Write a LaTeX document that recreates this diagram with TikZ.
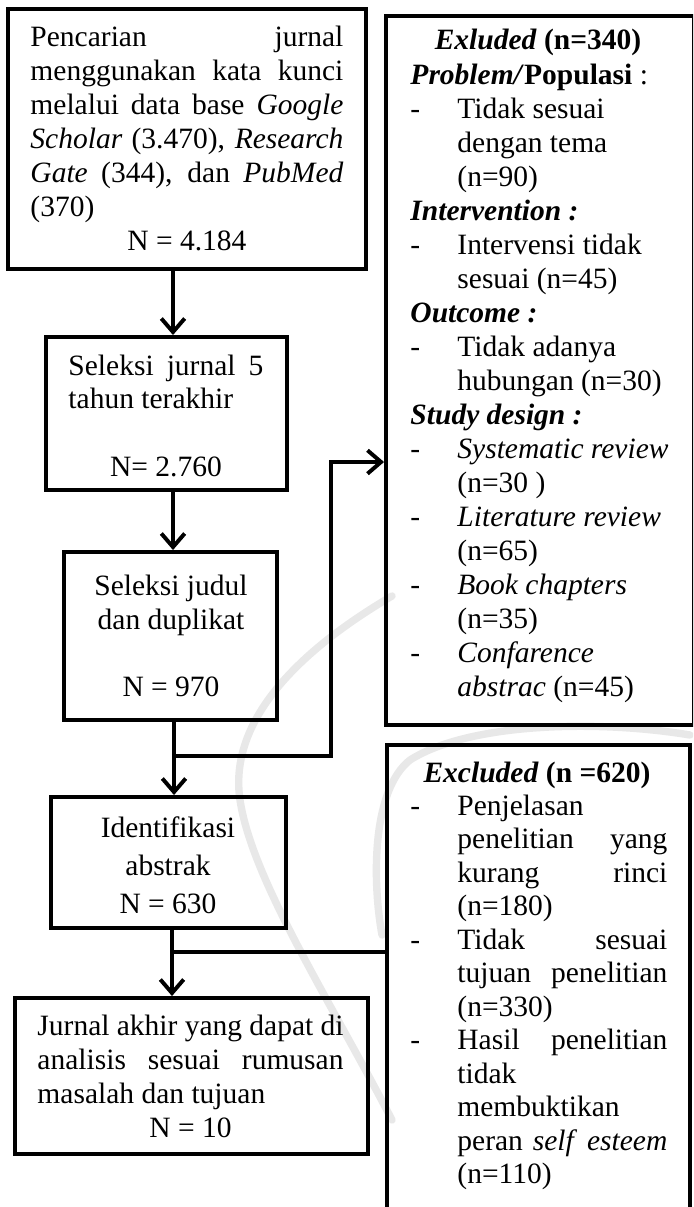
\documentclass[tikz,border=0pt]{standalone}
\usepackage{fontspec}
\setmainfont{Liberation Serif}
\usetikzlibrary{arrows.meta,fit}
\newcommand{\fixsp}{\spaceskip=0pt\xspaceskip=0pt\relax}
\newcommand{\jl}[1]{\makebox[\linewidth][s]{#1}}
\newcommand{\cl}[1]{\makebox[\linewidth][c]{#1}}
\newcommand{\dsh}{\makebox[19.1pt][l]{-}}
\newcommand{\ind}{\hspace*{19.1pt}}
\newcommand{\ji}[1]{\makebox[85.4pt][s]{#1}}
\begin{document}
\begin{tikzpicture}[x=0.4068pt,y=-0.4068pt,
  box/.style={draw, line width=1.6pt, inner sep=0pt},
  txt/.style={inner sep=0pt, font=\fontsize{12pt}{13.83pt}\selectfont, align=left},
  ctxt/.style={inner sep=0pt, font=\fontsize{12pt}{13.83pt}\selectfont, align=center},
  conn/.style={line width=1.6pt},
  arr/.style={conn, -{Straight Barb[length=5.5pt,width=9.5pt]}},
  wm/.style={line width=3pt, draw=black!9, line cap=round}]
\useasboundingbox (0,0) rectangle (693,1207);
\clip (0,0) rectangle (693,1207);
\fill[white] (0,0) rectangle (693,1207);
% watermark
\draw[wm] (392,596) .. controls (300,650) and (228,720) .. (240,800)
  .. controls (252,880) and (330,1000) .. (392,1120);
\draw[wm] (690,735) .. controls (600,720) and (470,722) .. (410,760)
  .. controls (372,790) and (372,880) .. (382,935);
% boxes
\node[box, fit={(8,9) (366,269)}] (b1) {};
\node[box, fit={(46,337) (287,490)}] (b2) {};
\node[box, fit={(64,552) (277,720)}] (b3) {};
\node[box, fit={(51,797) (286,928)}] (b4) {};
\node[box, fit={(15,998) (368,1154)}] (b5) {};
\node[box, fit={(386,16) (694,725)}] (r1) {};
\node[box, fit={(387,745) (690,1240)}] (r2) {};
% texts
\node[txt, text width=127.3pt, anchor=base west] (t1) at (30,47) {\fixsp\raggedright
\jl{Pencarian jurnal}\\
\jl{menggunakan kata kunci}\\
\jl{melalui data base \textit{Google}}\\
\jl{\textit{Scholar} (3.470), \textit{Research}}\\
\jl{\textit{Gate} (344), dan \textit{PubMed}}\\
(370)\\
\cl{N = 4.184}};
\node[txt, text width=79.3pt, anchor=base west] (t2) at (68,375) {\fixsp\raggedright
\jl{Seleksi jurnal 5}\\
tahun terakhir\\[13.83pt]
\cl{N= 2.760}};
\node[txt, text width=85pt, anchor=base] (t3) at (171,595) {\fixsp\raggedright
\cl{Seleksi judul}\\
\cl{dan duplikat}\\[13.83pt]
\cl{N = 970}};
\node[txt, text width=85pt, anchor=base, font=\fontsize{12pt}{15.46pt}\selectfont] (t4) at (168,837) {\fixsp\raggedright
\cl{Identifikasi}\\
\cl{abstrak}\\
\cl{N = 630}};
\node[txt, text width=124.5pt, anchor=base west] (t5) at (37,1035) {\fixsp\raggedright
\jl{Jurnal akhir yang dapat di}\\
\jl{analisis sesuai rumusan}\\
masalah dan tujuan\\
\cl{N = 10}};
\node[ctxt, anchor=base] (h1) at (538,50) {\fixsp\textbf{\textit{Exluded} (n=340)}};
\node[txt, text width=115pt, anchor=base west] (t6) at (410,85) {\fixsp\raggedright
\textbf{\textit{Problem/}Populasi} :\\
\dsh Tidak sesuai\\
\ind dengan tema\\
\ind (n=90)\\
\textbf{\textit{Intervention :}}\\
\dsh Intervensi tidak\\
\ind sesuai (n=45)\\
\textbf{\textit{Outcome :}}\\
\dsh Tidak adanya\\
\ind hubungan (n=30)\\
\textbf{\textit{Study design :}}\\
\dsh \textit{Systematic review}\\
\ind (n=30 )\\
\dsh \textit{Literature review}\\
\ind (n=65)\\
\dsh \textit{Book chapters}\\
\ind (n=35)\\
\dsh \textit{Confarence}\\
\ind \textit{abstrac} (n=45)};
\node[ctxt, anchor=base] (h2) at (537,782) {\fixsp\textbf{\textit{Excluded} (n =620)}};
\node[txt, text width=115pt, anchor=base west, font=\fontsize{12pt}{13.63pt}\selectfont] (t7) at (410,815) {\fixsp\raggedright
\dsh Penjelasan\\
\ind\ji{penelitian yang}\\
\ind\ji{kurang rinci}\\
\ind (n=180)\\
\dsh\ji{Tidak sesuai}\\
\ind\ji{tujuan penelitian}\\
\ind (n=330)\\
\dsh\ji{Hasil penelitian}\\
\ind tidak\\
\ind membuktikan\\
\ind\ji{peran \textit{self} \textit{esteem}}\\
\ind (n=110)};
% connectors
\coordinate (v1) at (173,0);
\coordinate (v2) at (173,0);
\coordinate (j1) at (174,756);
\coordinate (k1) at (331,462);
\coordinate (j2) at (172,952);
\draw[arr] (b1.south -| v1) -- (b2.north -| v1);
\draw[arr] (b2.south -| v2) -- (b3.north -| v2);
\draw[arr] (b3.south -| j1) -- (b4.north -| j1);
\draw[arr] (j1) -| (k1) -- (k1 -| r1.west);
\draw[arr] (b4.south -| j2) -- (b5.north -| j2);
\draw[conn] (j2) -- (j2 -| r2.west);
\end{tikzpicture}
\end{document}
